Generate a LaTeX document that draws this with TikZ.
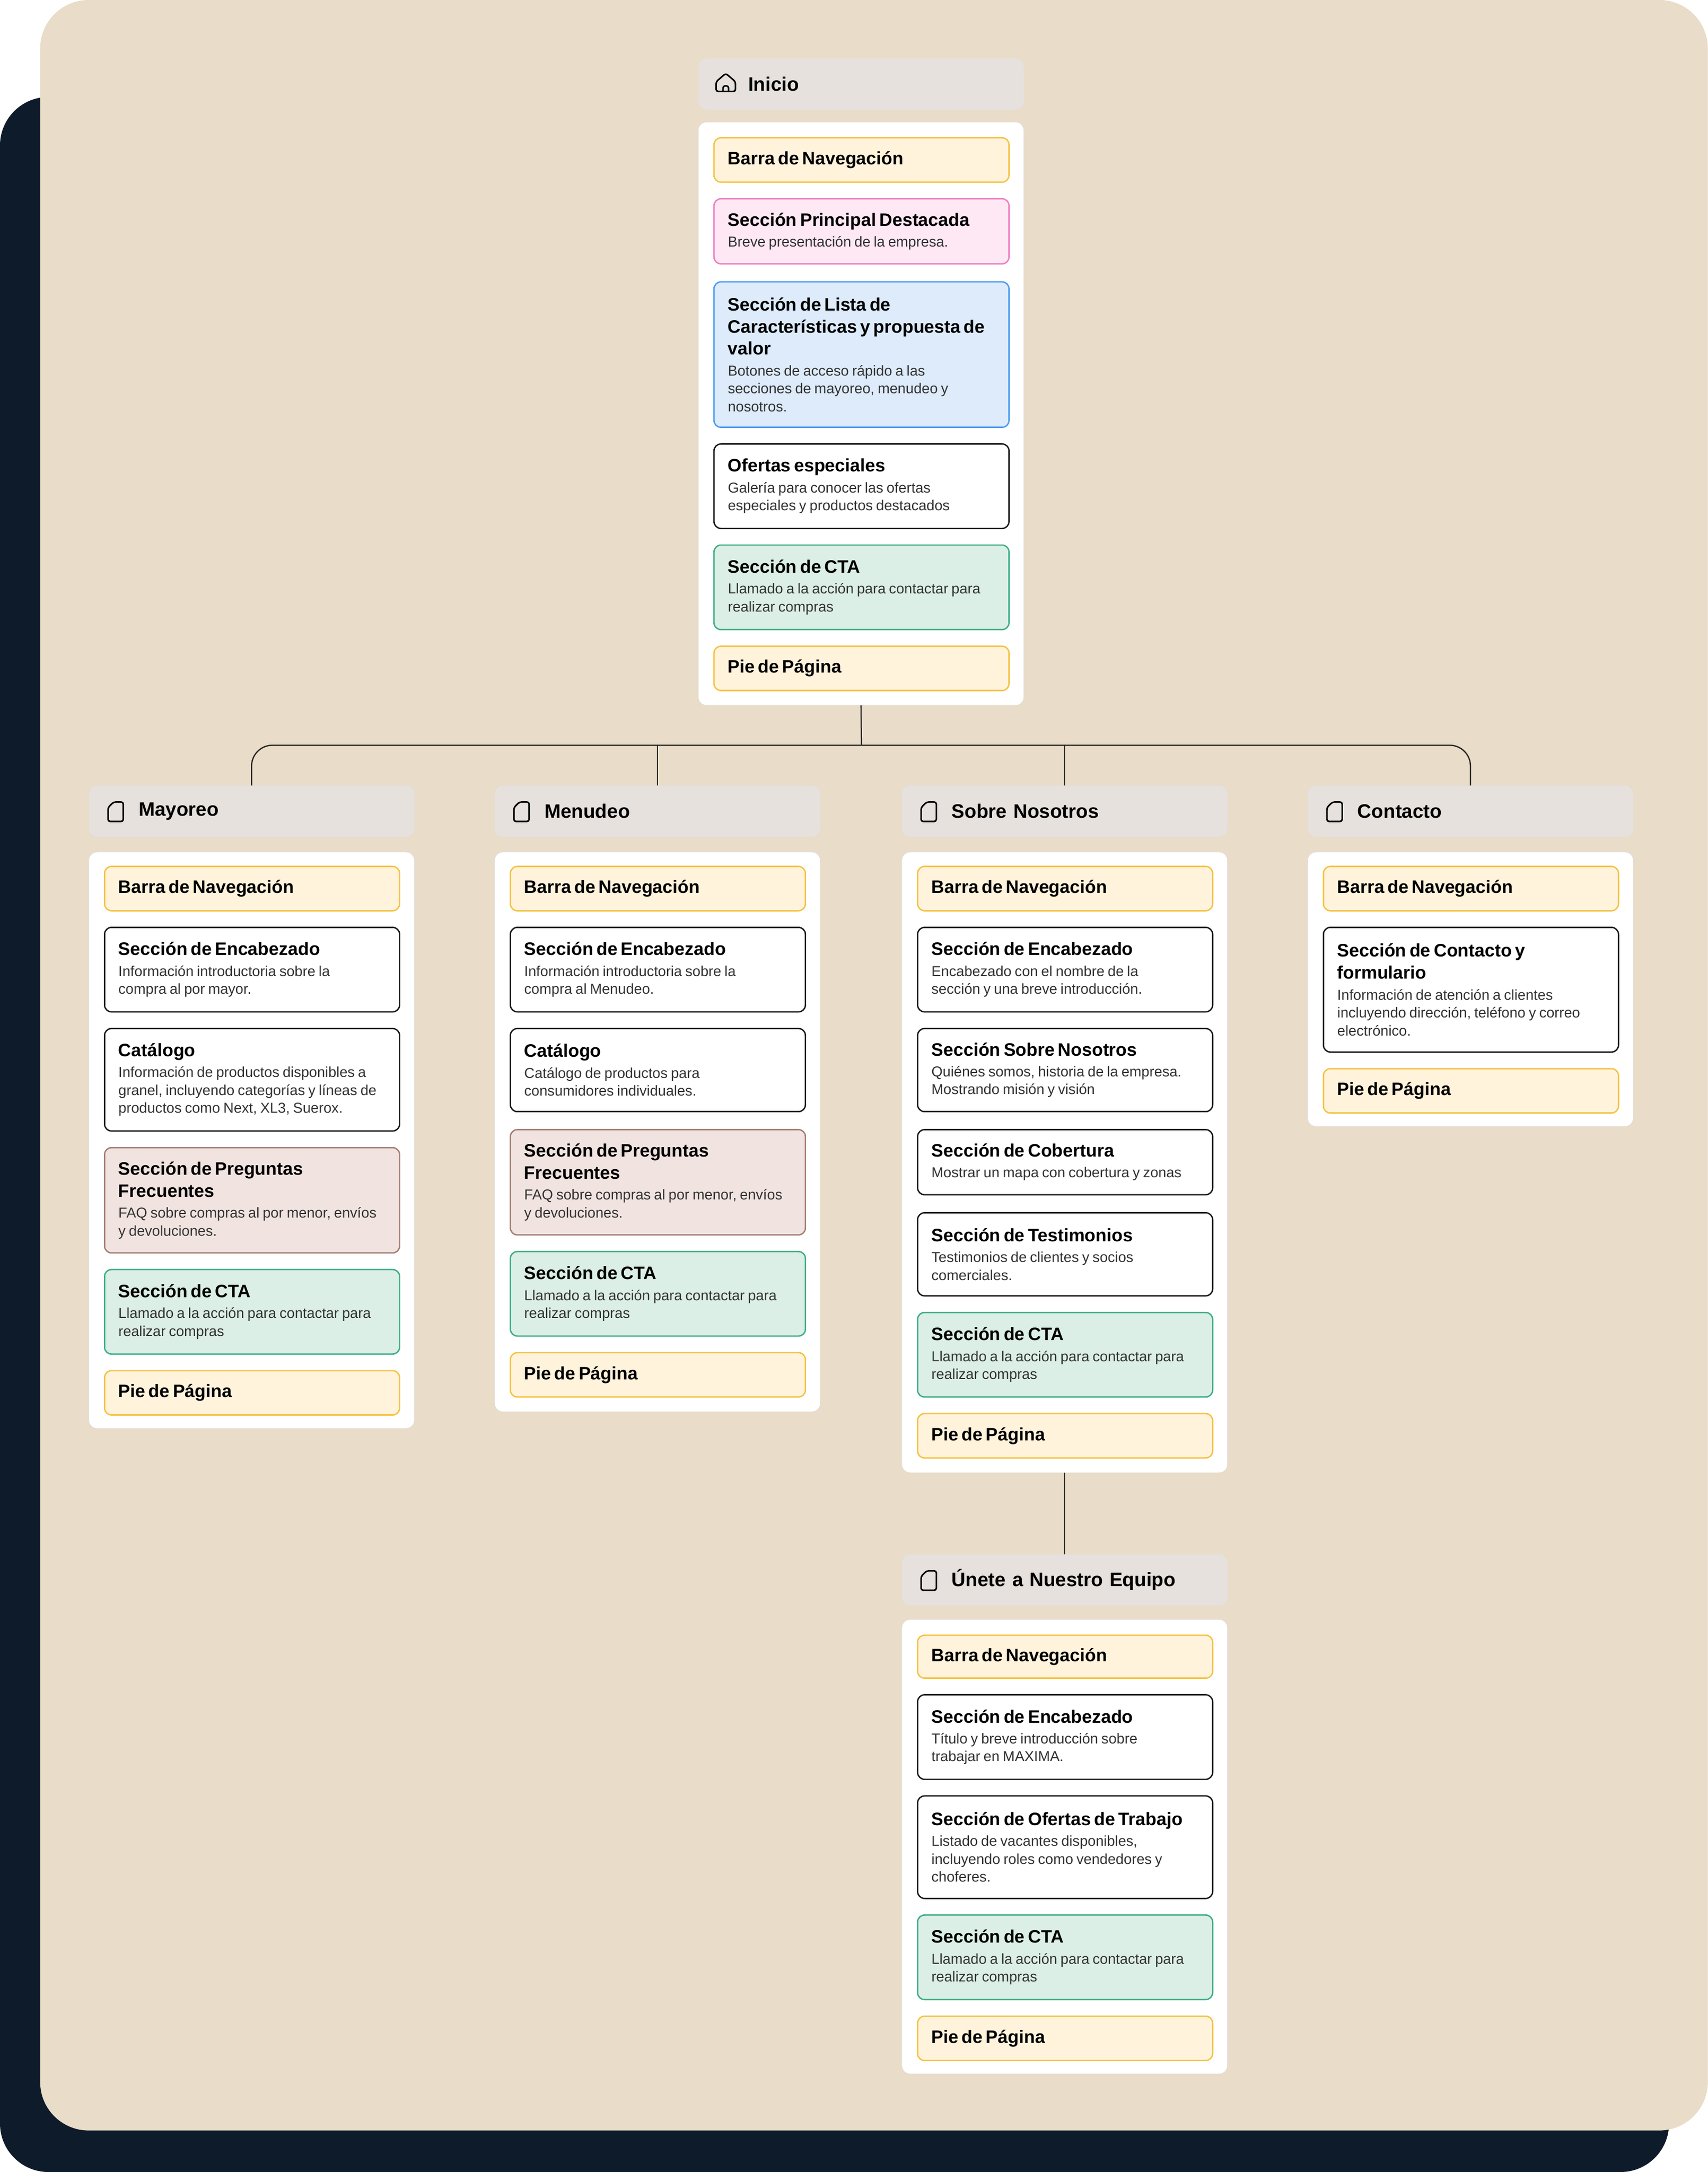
\documentclass[tikz,border=0pt]{standalone}
\usepackage{fontspec}
\setmainfont{Liberation Sans}
\usetikzlibrary{positioning}

\definecolor{bgdark}{HTML}{0D1B2A}
\definecolor{bgbeige}{HTML}{E9DCC8}
\definecolor{headgray}{HTML}{E6E1DD}
\definecolor{txtgray}{HTML}{333333}
\definecolor{yelfill}{HTML}{FFF3DC}
\definecolor{yeldraw}{HTML}{F5C242}
\definecolor{pinkfill}{HTML}{FDE8F3}
\definecolor{pinkdraw}{HTML}{F07CC4}
\definecolor{bluefill}{HTML}{DDEBFB}
\definecolor{bluedraw}{HTML}{4A9CF0}
\definecolor{greenfill}{HTML}{DCEFE6}
\definecolor{greendraw}{HTML}{3DAE86}
\definecolor{brownfill}{HTML}{F1E4E0}
\definecolor{browndraw}{HTML}{A57F75}

\newcommand{\px}{0.05cm}
\newcommand{\ttl}[1]{{\fontsize{18.5}{22.7}\selectfont\bfseries #1\par}}
\newcommand{\dsc}[1]{{\vspace{3pt}\fontsize{14.8}{18.4}\selectfont\color{txtgray}#1\par}}
% item: style, name, x,y, height, content
\newcommand{\secc}[5]{\node[secbox,#1,minimum height=#4*\px] (#2) at (#3) {#5};}
\newcommand{\docicon}[1]{\draw[icon] (#1) ++(0,4) -- ++(4,-4) -- ++(7,0) -- ++(0,14) -- ++(-11,0) -- cycle;}

\tikzset{
  secbox/.style={draw, rounded corners=5*\px, line width=1.4pt, anchor=north west,
    minimum width=213*\px, text width=193*\px, inner xsep=10*\px, inner ysep=3pt, align=left},
  yel/.style={fill=yelfill, draw=yeldraw},
  pink/.style={fill=pinkfill, draw=pinkdraw},
  blu/.style={fill=bluefill, draw=bluedraw},
  wht/.style={fill=white, draw=black!90},
  grn/.style={fill=greenfill, draw=greendraw},
  brn/.style={fill=brownfill, draw=browndraw},
  panel/.style={fill=white, draw=black!12, rounded corners=6*\px, anchor=north west,
    minimum width=235*\px, inner sep=0pt},
  headbox/.style={fill=headgray, draw=black!12, rounded corners=6*\px, anchor=north west,
    minimum width=235*\px, minimum height=37*\px, text width=199*\px, inner xsep=18*\px,
    align=left, font=\fontsize{20}{22}\selectfont\bfseries},
  icon/.style={line width=1.6pt, rounded corners=1.5*\px, line join=round},
  conn/.style={line width=1.3pt, draw=black!85}
}

\begin{document}
\begin{tikzpicture}[x=\px, y=-\px]
\useasboundingbox (0,0) rectangle (1233,1568);
% background
\fill[bgdark, rounded corners=35*\px] (0,70) rectangle (1205,1568);
\fill[bgbeige, rounded corners=35*\px] (29,0) rectangle (1233,1538);

% Inicio
\node[headbox] (iniHead) at (504,42) {\hspace*{0.9cm}Inicio};
\draw[icon] (517,59) -- (524,53) -- (531,59) -- (531,66) -- (517,66) -- cycle;
\draw[icon] (522,66) -- (522,62) -- (526,62) -- (526,66);
\node[panel, minimum height=421*\px] (iniBody) at (504,88) {};
\secc{yel}{iniBarra}{515,99}{32}{\ttl{Barra de Navegación}}
\secc{pink}{iniPrin}{515,143}{47}{\ttl{Sección Principal Destacada}\dsc{Breve presentación de la empresa.}}
\secc{blu}{iniLista}{515,203}{105}{\ttl{Sección de Lista de\\Características y propuesta de\\valor}\dsc{Botones de acceso rápido a las\\secciones de mayoreo, menudeo y\\nosotros.}}
\secc{wht}{iniOfer}{515,320}{61}{\ttl{Ofertas especiales}\dsc{Galería para conocer las ofertas\\especiales y productos destacados}}
\secc{grn}{iniCta}{515,393}{61}{\ttl{Sección de CTA}\dsc{Llamado a la acción para contactar para\\realizar compras}}
\secc{yel}{iniPie}{515,466}{32}{\ttl{Pie de Página}}

% Mayoreo
\node[headbox] (mayHead) at (64,567) {\hspace*{0.9cm}Mayoreo};
\docicon{78,579}
\node[panel, minimum height=416*\px] (mayBody) at (64,615) {};
\secc{yel}{mayBarra}{75,625}{32}{\ttl{Barra de Navegación}}
\secc{wht}{mayEnc}{75,669}{61}{\ttl{Sección de Encabezado}\dsc{Información introductoria sobre la\\compra al por mayor.}}
\secc{wht}{mayCat}{75,742}{74}{\ttl{Catálogo}\dsc{Información de productos disponibles a\\granel, incluyendo categorías y líneas de\\productos como Next, XL3, Suerox.}}
\secc{brn}{mayFaq}{75,828}{76}{\ttl{Sección de Preguntas\\Frecuentes}\dsc{FAQ sobre compras al por menor, envíos\\y devoluciones.}}
\secc{grn}{mayCta}{75,916}{61}{\ttl{Sección de CTA}\dsc{Llamado a la acción para contactar para\\realizar compras}}
\secc{yel}{mayPie}{75,989}{32}{\ttl{Pie de Página}}

% Menudeo
\node[headbox] (menHead) at (357,567) {\hspace*{0.9cm}Menudeo};
\docicon{371,579}
\node[panel, minimum height=404*\px] (menBody) at (357,615) {};
\secc{yel}{menBarra}{368,625}{32}{\ttl{Barra de Navegación}}
\secc{wht}{menEnc}{368,669}{61}{\ttl{Sección de Encabezado}\dsc{Información introductoria sobre la\\compra al Menudeo.}}
\secc{wht}{menCat}{368,742}{60}{\ttl{Catálogo}\dsc{Catálogo de productos para\\consumidores individuales.}}
\secc{brn}{menFaq}{368,815}{76}{\ttl{Sección de Preguntas\\Frecuentes}\dsc{FAQ sobre compras al por menor, envíos\\y devoluciones.}}
\secc{grn}{menCta}{368,903}{61}{\ttl{Sección de CTA}\dsc{Llamado a la acción para contactar para\\realizar compras}}
\secc{yel}{menPie}{368,976}{32}{\ttl{Pie de Página}}

% Sobre Nosotros
\node[headbox] (sobHead) at (651,567) {\hspace*{0.9cm}Sobre Nosotros};
\docicon{665,579}
\node[panel, minimum height=448*\px] (sobBody) at (651,615) {};
\secc{yel}{sobBarra}{662,625}{32}{\ttl{Barra de Navegación}}
\secc{wht}{sobEnc}{662,669}{61}{\ttl{Sección de Encabezado}\dsc{Encabezado con el nombre de la\\sección y una breve introducción.}}
\secc{wht}{sobNos}{662,742}{60}{\ttl{Sección Sobre Nosotros}\dsc{Quiénes somos, historia de la empresa.\\Mostrando misión y visión}}
\secc{wht}{sobCob}{662,815}{47}{\ttl{Sección de Cobertura}\dsc{Mostrar un mapa con cobertura y zonas}}
\secc{wht}{sobTes}{662,875}{60}{\ttl{Sección de Testimonios}\dsc{Testimonios de clientes y socios\\comerciales.}}
\secc{grn}{sobCta}{662,947}{61}{\ttl{Sección de CTA}\dsc{Llamado a la acción para contactar para\\realizar compras}}
\secc{yel}{sobPie}{662,1020}{32}{\ttl{Pie de Página}}

% Contacto
\node[headbox] (conHead) at (944,567) {\hspace*{0.9cm}Contacto};
\docicon{958,579}
\node[panel, minimum height=198*\px] (conBody) at (944,615) {};
\secc{yel}{conBarra}{955,625}{32}{\ttl{Barra de Navegación}}
\secc{wht}{conForm}{955,669}{90}{\ttl{Sección de Contacto y\\formulario}\dsc{Información de atención a clientes\\incluyendo dirección, teléfono y correo\\electrónico.}}
\secc{yel}{conPie}{955,771}{32}{\ttl{Pie de Página}}

% Unete a Nuestro Equipo
\node[headbox] (uneHead) at (651,1122) {\hspace*{0.9cm}Únete a Nuestro Equipo};
\docicon{665,1134}
\node[panel, minimum height=328*\px] (uneBody) at (651,1169) {};
\secc{yel}{uneBarra}{662,1180}{31}{\ttl{Barra de Navegación}}
\secc{wht}{uneEnc}{662,1223}{61}{\ttl{Sección de Encabezado}\dsc{Título y breve introducción sobre\\trabajar en MAXIMA.}}
\secc{wht}{uneOfer}{662,1296}{74}{\ttl{Sección de Ofertas de Trabajo}\dsc{Listado de vacantes disponibles,\\incluyendo roles como vendedores y\\choferes.}}
\secc{grn}{uneCta}{662,1382}{61}{\ttl{Sección de CTA}\dsc{Llamado a la acción para contactar para\\realizar compras}}
\secc{yel}{unePie}{662,1455}{32}{\ttl{Pie de Página}}

% connectors
\coordinate (bus) at (622,538);
\draw[conn] (iniBody.south) -- (bus);
\draw[conn, rounded corners=15*\px] (mayHead.north) |- (bus) -| (conHead.north);
\draw[conn] (menHead.north) -- (menHead.north |- bus);
\draw[conn] (sobHead.north) -- (sobHead.north |- bus);
\draw[conn] (sobBody.south) -- (uneHead.north);
\end{tikzpicture}
\end{document}
